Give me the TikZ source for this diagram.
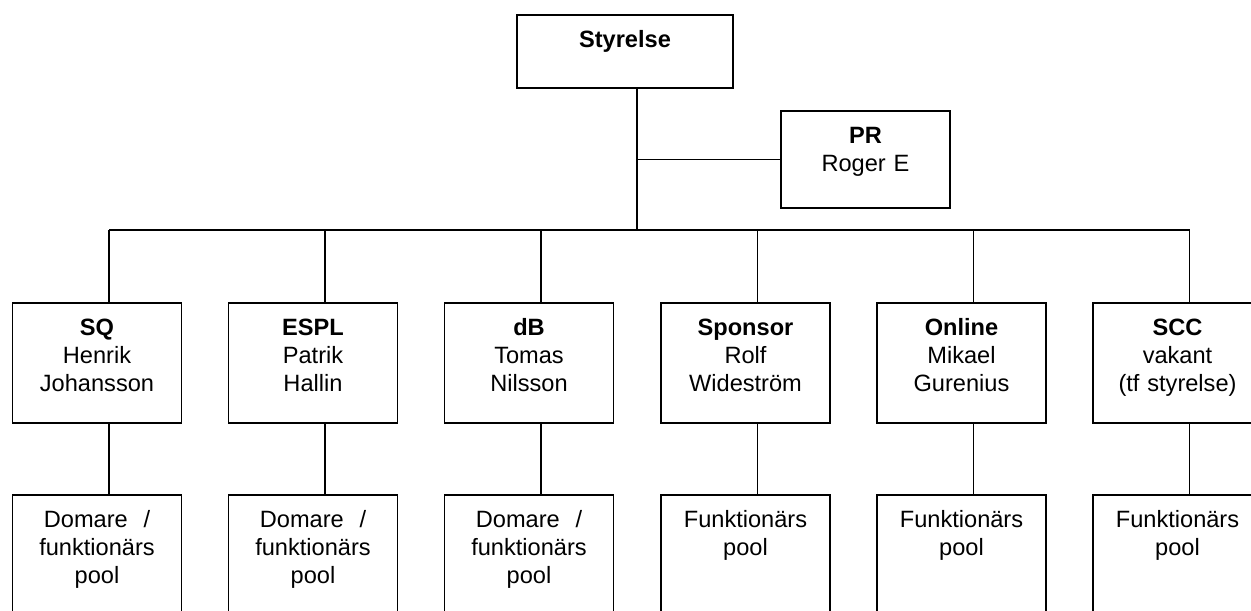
\documentclass[tikz,border=0pt]{standalone}
\usepackage{fontspec}
\setmainfont{Liberation Sans}
\begin{document}
\begin{tikzpicture}[
      x=0.5pt, y=-0.5pt, line width=0.8pt,
      box/.style={draw, anchor=north, text width=80pt, minimum width=84.5pt,
                  align=center, inner xsep=2pt, inner ysep=0pt,
                  text height=16.5pt, font=\fontsize{11.8}{14}\selectfont},
      unit/.style={box, text depth=43.5pt},
      pool/.style={box, text depth=80pt}
    ]
      \useasboundingbox (0,0) rectangle (1251,610);
      \clip (0,0) rectangle (1251,610);
      \node[box, text width=104pt, minimum width=108pt, text depth=20pt] (sty) at (625,14) {\textbf{Styrelse}};
      \node[box, text depth=32pt] (pr) at (865.5,110) {\textbf{PR}\\Roger E};
      \coordinate (bl) at (109,230);
      \coordinate (br) at (1190,230);
      \draw (bl) -- (br);
      \draw ([xshift=6pt]sty.south) -- ([xshift=6pt]sty.south |- bl);
      \draw ([xshift=6pt]sty.south |- pr.west) -- (pr.west);
      \foreach \i/\x/\ttl/\who/\what in {
          1/97/SQ/{Henrik\\Johansson}/{Domare~~/\\funktionärs\\pool},
          2/313/ESPL/{Patrik\\Hallin}/{Domare~~/\\funktionärs\\pool},
          3/529/dB/{Tomas\\Nilsson}/{Domare~~/\\funktionärs\\pool},
          4/745.5/Sponsor/{Rolf\\Wideström}/{Funktionärs\\pool},
          5/961.5/Online/{Mikael\\Gurenius}/{Funktionärs\\pool},
          6/1177.5/SCC/{vakant\\(tf styrelse)}/{Funktionärs\\pool}} {
        \node[unit] (u\i) at (\x,302) {\textbf{\ttl}\\\who};
        \node[pool] (p\i) at (\x,494) {\what};
        \draw ([xshift=6pt]u\i.north |- bl) -- ([xshift=6pt]u\i.north);
        \draw ([xshift=6pt]u\i.south) -- ([xshift=6pt]p\i.north);
      }
    \end{tikzpicture}
\end{document}
